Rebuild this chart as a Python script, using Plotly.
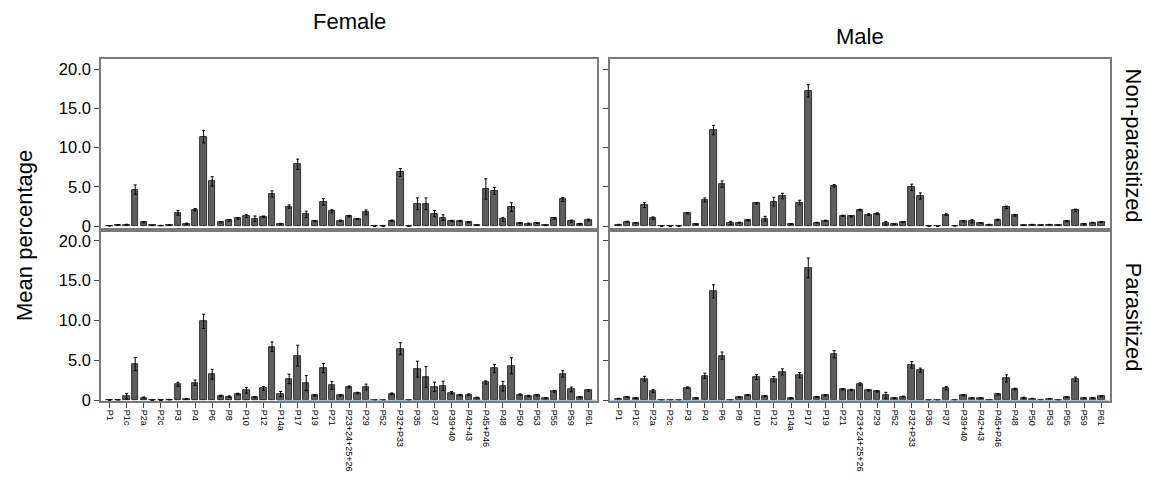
import plotly.graph_objects as go

categories = ["P1", "P1b", "P1c", "P2", "P2a", "P2b", "P2c", "P2d", "P3", "P3a",
              "P4", "P5", "P6", "P7", "P8", "P9", "P10", "P11", "P12", "P13",
              "P14a", "P16", "P17", "P18", "P19", "P20", "P21", "P22", "P23+24+25+26", "P27+28",
              "P29", "P30", "P52", "P31", "P32+P33", "P34", "P35", "P36", "P37", "P38",
              "P39+40", "P41", "P42+43", "P44", "P45+P46", "P47", "P48", "P49", "P50", "P51",
              "P53", "P54", "P55", "P57+58", "P59", "P60", "P61"]
tick_labels = categories[::2]
y_tick_vals = [0, 5, 10, 15, 20]
y_tick_text = ["0", "5.0", "10.0", "15.0", "20.0"]

female_nonpar = [0.05, 0.15, 0.2, 4.66, 0.5, 0.1, 0.08, 0.12, 1.7, 0.3,
                 2.1, 11.4, 5.7, 0.5, 0.75, 1.0, 1.3, 0.95, 1.2, 4.1,
                 0.3, 2.5, 7.9, 1.5, 0.65, 3.1, 1.9, 0.7, 1.28, 0.9,
                 1.77, 0.0, 0.0, 0.7, 6.85, 0.0, 2.85, 2.85, 1.6, 1.1,
                 0.66, 0.66, 0.5, 0.12, 4.75, 4.5, 0.87, 2.43, 0.41, 0.33,
                 0.41, 0.1, 1.0, 3.4, 0.62, 0.3, 0.78]
female_nonpar_err = [0.02, 0.05, 0.05, 0.6, 0.08, 0.03, 0.03, 0.04, 0.3, 0.08,
                     0.15, 0.8, 0.6, 0.08, 0.1, 0.1, 0.2, 0.35, 0.1, 0.4,
                     0.06, 0.2, 0.65, 0.4, 0.08, 0.4, 0.2, 0.08, 0.1, 0.08,
                     0.3, 0.0, 0.0, 0.08, 0.5, 0.0, 0.75, 0.75, 0.4, 0.35,
                     0.08, 0.08, 0.06, 0.04, 1.3, 0.45, 0.25, 0.55, 0.06, 0.06,
                     0.06, 0.03, 0.1, 0.25, 0.15, 0.06, 0.12]

female_par = [0.02, 0.05, 0.5, 4.54, 0.33, 0.0, 0.0, 0.08, 2.0, 0.16,
              2.2, 9.9, 3.26, 0.54, 0.45, 0.78, 1.24, 0.37, 1.48, 6.72,
              0.78, 2.68, 5.6, 2.14, 0.62, 4.04, 1.86, 0.62, 1.67, 0.9,
              1.65, 0.0, 0.0, 0.82, 6.47, 0.0, 3.9, 2.93, 1.69, 1.81,
              0.95, 0.66, 0.7, 0.33, 2.23, 4.0, 1.77, 4.33, 0.7, 0.54,
              0.62, 0.25, 1.11, 3.3, 1.36, 0.37, 1.24]
female_par_err = [0.01, 0.02, 0.33, 0.82, 0.08, 0.0, 0.0, 0.03, 0.25, 0.05,
                  0.33, 0.9, 0.6, 0.1, 0.1, 0.1, 0.35, 0.06, 0.25, 0.6,
                  0.33, 0.6, 1.3, 0.95, 0.1, 0.58, 0.5, 0.1, 0.12, 0.1,
                  0.37, 0.0, 0.0, 0.1, 0.75, 0.0, 1.0, 1.3, 0.58, 0.58,
                  0.15, 0.08, 0.1, 0.06, 0.2, 0.5, 0.6, 1.0, 0.1, 0.08,
                  0.1, 0.05, 0.1, 0.4, 0.3, 0.06, 0.12]

male_nonpar = [0.2, 0.58, 0.41, 2.68, 1.03, 0.0, 0.0, 0.0, 1.65, 0.25,
               3.34, 12.25, 5.36, 0.41, 0.45, 0.74, 2.89, 0.95, 3.13, 3.84,
               0.29, 3.0, 17.24, 0.45, 0.7, 5.15, 1.32, 1.24, 2.06, 1.48,
               1.6, 0.37, 0.25, 0.5, 4.95, 3.84, 0.0, 0.0, 1.48, 0.05,
               0.62, 0.62, 0.41, 0.2, 0.82, 2.4, 1.4, 0.12, 0.2, 0.12,
               0.2, 0.12, 0.62, 2.02, 0.29, 0.45, 0.54]
male_nonpar_err = [0.04, 0.06, 0.05, 0.3, 0.15, 0.0, 0.0, 0.0, 0.08, 0.04,
                   0.25, 0.6, 0.4, 0.2, 0.06, 0.06, 0.1, 0.3, 0.55, 0.35,
                   0.04, 0.3, 0.78, 0.05, 0.06, 0.15, 0.08, 0.08, 0.1, 0.1,
                   0.1, 0.2, 0.05, 0.05, 0.4, 0.4, 0.0, 0.0, 0.1, 0.02,
                   0.08, 0.2, 0.05, 0.04, 0.08, 0.15, 0.1, 0.03, 0.03, 0.03,
                   0.03, 0.03, 0.06, 0.15, 0.05, 0.05, 0.06]

male_par = [0.2, 0.41, 0.25, 2.7, 1.16, 0.0, 0.0, 0.0, 1.58, 0.25,
            3.07, 13.65, 5.6, 0.05, 0.37, 0.66, 2.9, 0.5, 2.65, 3.57,
            0.25, 3.15, 16.6, 0.41, 0.62, 5.77, 1.37, 1.29, 2.03, 1.24,
            1.12, 0.62, 0.25, 0.46, 4.44, 3.78, 0.0, 0.0, 1.5, 0.05,
            0.62, 0.29, 0.29, 0.08, 0.75, 2.74, 1.41, 0.29, 0.21, 0.08,
            0.17, 0.0, 0.41, 2.65, 0.29, 0.29, 0.5]
male_par_err = [0.04, 0.05, 0.04, 0.3, 0.2, 0.0, 0.0, 0.0, 0.1, 0.04,
                0.33, 0.83, 0.45, 0.02, 0.05, 0.06, 0.3, 0.06, 0.33, 0.37,
                0.04, 0.33, 1.24, 0.05, 0.06, 0.45, 0.08, 0.08, 0.15, 0.08,
                0.08, 0.37, 0.04, 0.05, 0.4, 0.25, 0.0, 0.0, 0.2, 0.02,
                0.08, 0.04, 0.04, 0.02, 0.08, 0.45, 0.1, 0.1, 0.04, 0.02,
                0.03, 0.0, 0.05, 0.25, 0.05, 0.05, 0.06]

W, H = 1149, 480
FONT = "Liberation Sans, Arial, sans-serif"

# panel pixel boxes: (left, right, top, bottom) and y ranges
panels = {
    1: (female_nonpar, female_nonpar_err, (101, 597, 60, 232), [-0.25, 21.3]),
    2: (male_nonpar, male_nonpar_err, (610, 1110, 60, 232), [-0.25, 21.3]),
    3: (female_par, female_par_err, (101, 597, 236, 408), [-0.12, 21.1]),
    4: (male_par, male_par_err, (610, 1110, 236, 408), [-0.12, 21.1]),
}

fig = go.Figure()
layout = dict()
for k, (vals, errs, (l, r, t, b), yr) in panels.items():
    xa = "x" if k == 1 else f"x{k}"
    ya = "y" if k == 1 else f"y{k}"
    fig.add_trace(go.Bar(
        x=categories, y=vals, xaxis=xa, yaxis=ya, width=0.75,
        marker=dict(color="#5e5e5e", line=dict(color="#111111", width=0.8)),
        error_y=dict(type="data", array=errs, color="#000000", thickness=1, width=1.5),
        showlegend=False,
    ))
    bottom_row = k in (3, 4)
    left_col = k in (1, 3)
    layout["xaxis" if k == 1 else f"xaxis{k}"] = dict(
        domain=[l / W, r / W], anchor=ya, type="category",
        categoryorder="array", categoryarray=categories,
        range=[-1, len(categories)],
        tickmode="array", tickvals=tick_labels, ticktext=tick_labels,
        showticklabels=bottom_row, ticks="outside" if bottom_row else "",
        ticklen=5, tickcolor="#444", tickangle=90,
        tickfont=dict(family=FONT, size=9, color="#000"),
        showline=True, linecolor="#7a7a7a", linewidth=1.5, mirror=True,
        showgrid=False, zeroline=False, fixedrange=True,
    )
    layout["yaxis" if k == 1 else f"yaxis{k}"] = dict(
        domain=[1 - b / H, 1 - t / H], anchor=xa, range=yr,
        tickmode="array", tickvals=y_tick_vals, ticktext=y_tick_text,
        showticklabels=left_col, ticks="outside", ticklen=5, tickcolor="#444",
        tickfont=dict(family=FONT, size=16.5, color="#000"),
        showline=True, linecolor="#7a7a7a", linewidth=1.5, mirror=True,
        showgrid=False, zeroline=False, fixedrange=True,
    )

fig.update_layout(
    width=W, height=H, margin=dict(l=0, r=0, t=0, b=0),
    paper_bgcolor="white", plot_bgcolor="white", bargap=0,
    font=dict(family=FONT, color="#000"),
    **layout,
)

# thin light-blue baseline seen in the parasitized panels
fig.add_shape(type="line", xref="x3", yref="y3", x0=19.6, x1=56.9, y0=0, y1=0,
              line=dict(color="#7fb2e0", width=1.2))
fig.add_shape(type="line", xref="x4", yref="y4", x0=-0.9, x1=56.9, y0=0, y1=0,
              line=dict(color="#7fb2e0", width=1.2))

ann = [
    dict(text="Female", x=349 / W, y=1 - 22 / H, size=22, angle=0),
    dict(text="Male", x=860 / W, y=1 - 37 / H, size=22, angle=0),
    dict(text="Non-parasitized", x=1133 / W, y=1 - 148 / H, size=22, angle=90),
    dict(text="Parasitized", x=1133 / W, y=1 - 322 / H, size=22, angle=90),
    dict(text="Mean percentage", x=24 / W, y=1 - 240 / H, size=22, angle=-90),
]
for a in ann:
    fig.add_annotation(text=a["text"], x=a["x"], y=a["y"], xref="paper", yref="paper",
                       showarrow=False, textangle=a["angle"], xanchor="center", yanchor="middle",
                       font=dict(family=FONT, size=a["size"], color="#000"))

fig.write_html("out.html")
